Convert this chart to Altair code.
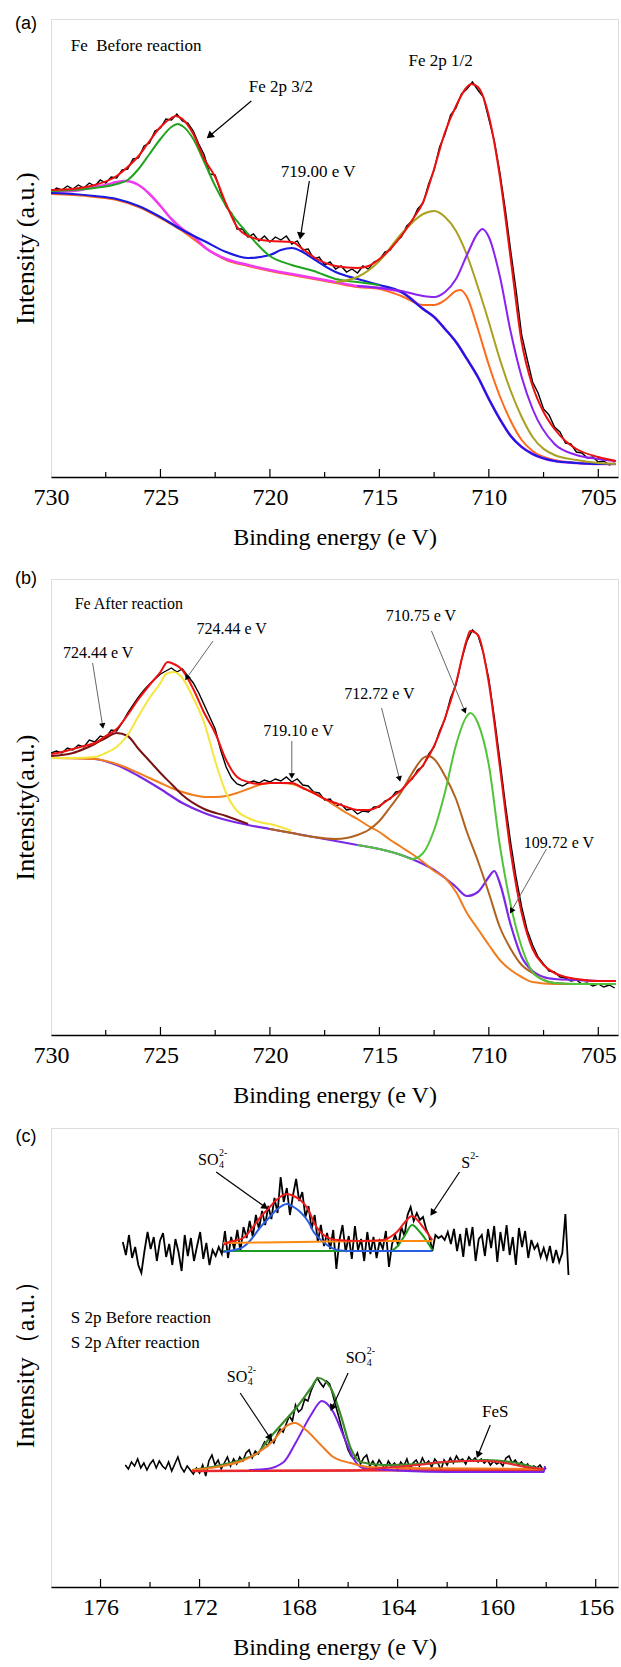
import math
import altair as alt
import pandas as pd

SERIF = "Liberation Serif"
SANS = "Liberation Sans"
W = 567
HA, HB, HC = 458, 456, 459

# ---------------- panel (a): Fe before reaction ----------------
A_TICK_LABELS = [730, 725, 720, 715, 710, 705]
A_MAJOR = [725, 720, 715, 710, 705]
A_MINOR = [727.5, 722.5, 717.5, 712.5, 707.5]

A_BLACK = [284, 289, 287, 291, 288, 292, 289, 294, 291, 297, 294, 300, 299, 307, 308, 318,
           319, 331, 334, 346, 349, 358, 357, 363, 356, 354, 346, 333, 322, 303, 302, 285,
           270, 264, 248, 248, 240, 243, 236, 241, 235, 240, 237, 241, 233, 236, 227, 228,
           218, 220, 212, 215, 208, 211, 205, 208, 204, 211, 208, 215, 217, 225, 227, 236,
           240, 251, 256, 268, 274, 293, 307, 330, 343, 362, 369, 383, 388, 395, 387, 380,
           358, 336, 305, 268, 226, 186, 142, 118, 95, 84, 68, 62, 50, 45, 34, 33,
           25, 24, 19, 20, 15, 16, 12, 14]
A_BLACK_X = [730 - 0.25 * i for i in range(len(A_BLACK))]

A_RED_X = [730, 729, 728, 727, 726.5, 726, 725.5, 725, 724.5, 724.3, 724, 723.5, 723, 722.5, 722,
           721.5, 721, 720, 719, 718.5, 718, 717, 716, 715.5, 715, 714.5, 714, 713.5, 713, 712.5,
           712, 711.5, 711, 710.8, 710.5, 710, 709.5, 709, 708.5, 708, 707.5, 707, 706.5, 706, 705, 704.2]
A_RED_Y = [287, 288, 292, 301, 310, 321, 336, 350, 359, 361, 358, 343, 318, 300, 273,
           250, 241, 236, 235, 228, 220, 211, 209, 211, 218, 228, 241, 257, 275, 308,
           345, 371, 390, 393, 390, 361, 301, 218, 135, 91, 65, 48, 36, 28, 20, 16]

A_BLUE_X = [730, 729, 728, 727, 726, 725, 724, 723, 722, 721, 720, 719.5, 719, 718.5, 718, 717, 716,
            715, 714, 713, 712.5, 712, 711.5, 711, 710.5, 710, 709.5, 709, 708.5, 708, 707, 706, 705, 704.2]
A_BLUE_Y = [284, 283, 281, 278, 271, 260, 247, 236, 225, 219, 222, 227, 229, 225, 218, 205, 198,
            192, 185, 168, 160, 148, 135, 118, 100, 78, 58, 41, 30, 23, 16, 14, 13, 13]

A_MAG_X = [730, 729, 728, 727.5, 727, 726.6, 726, 725.5, 725, 724.5, 724, 723.5, 723, 722, 721, 720,
           719, 718, 717, 716, 715, 714, 713, 712.5, 712, 711.5, 711, 710.5, 710, 709.5, 709, 708.5,
           708, 707, 706, 705, 704.2]
A_MAG_Y = [285, 286, 290, 292, 295, 296, 292, 283, 271, 258, 248, 241, 230, 218, 212, 207,
           203, 199, 195, 191, 189, 185, 168, 160, 148, 135, 118, 100, 78, 58, 41, 30,
           23, 16, 14, 13, 13]

A_GREEN_X = [730, 729, 728, 727, 726.5, 726, 725.5, 725, 724.5, 724.2, 724, 723.5, 723, 722.5, 722,
             721, 720, 719, 718, 717, 716, 715]
A_GREEN_Y = [286, 287, 289, 293, 297, 308, 323, 338, 350, 353, 351, 338, 315, 291, 271,
             243, 221, 212, 206, 198, 195, 192]

A_OLIVE_X = [717, 716, 715, 714, 713, 712.5, 712, 711.5, 711, 710.5, 710, 709.5, 709, 708.5, 708,
             707, 706, 705, 704.2]
A_OLIVE_Y = [195, 200, 216, 243, 263, 266, 260, 246, 222, 190, 155, 118, 86, 60, 40, 22, 17, 14, 13]

A_PURPLE_X = [716, 715, 714, 713, 712.5, 712, 711.5, 711, 710.5, 710.3, 710, 709.5, 709, 708.5, 708,
              707, 706, 705, 704.2]
A_PURPLE_Y = [191, 189, 186, 181, 180, 185, 198, 222, 244, 248, 240, 201, 145, 100, 68, 33, 22, 18, 16]

A_ORANGE_X = [730, 729, 728, 727, 726, 725, 724, 723, 722, 721, 720, 719, 718, 717, 716, 715, 714,
              713, 712.5, 712, 711.5, 711.3, 711, 710.5, 710, 709.5, 709, 708.5, 708, 707, 706, 705, 704.2]
A_ORANGE_Y = [283, 282, 280, 277, 270, 259, 246, 230, 217, 211, 206, 202, 198, 194, 190, 188, 181,
              172, 172, 177, 186, 187, 180, 148, 112, 81, 56, 37, 26, 17, 14, 13, 13]

A_TEXT = [(719.5, 390, "Fe 2p 3/2"), (712.2, 416, "Fe 2p 1/2"), (717.8, 305, "719.00 e V")]
A_TEXT_LEFT = [(729.1, 431, "Fe\u00a0 Before reaction")]
A_ARROWS = [(720.85, 376, 722.76, 341), (718.2, 296, 718.6, 241)]

# ---------------- panel (b): Fe after reaction ----------------
B_BLACK = [282, 284, 282, 287, 285, 290, 288, 295, 293, 299, 297, 305, 304, 312, 322, 330,
           338, 345, 351, 356, 361, 364, 367, 363, 366, 359, 352, 342, 330, 318, 306, 285,
           268, 257, 251, 249, 252, 254, 252, 255, 253, 256, 254, 258, 253, 256, 250, 249,
           243, 242, 235, 236, 229, 231, 225, 226, 221, 224, 223, 228, 228, 234, 236, 243,
           244, 252, 256, 265, 269, 281, 288, 304, 316, 337, 350, 375, 394, 405, 400, 382,
           356, 318, 276, 232, 192, 157, 128, 105, 90, 78, 71, 64, 63, 58, 57, 54,
           55, 51, 52, 49, 51, 48, 50, 47]
B_BLACK_X = [730 - 0.25 * i for i in range(len(B_BLACK))]

B_RED_X = [730, 729.5, 729, 728.5, 728, 727.5, 727, 726.5, 726, 725.5, 725, 724.67, 724.5, 724, 723.5,
           723, 722.5, 722, 721.5, 721, 720.5, 720, 719, 718.5, 718, 717.5, 717, 716.5, 716, 715.5,
           715, 714.5, 714, 713.5, 713, 712.5, 712, 711.5, 711, 710.85, 710.5, 710, 709.5, 709, 708.5,
           708, 707.5, 707, 706.5, 706, 705, 704.2]
B_RED_Y = [281, 283, 286, 289, 292, 299, 306, 320, 336, 350, 363, 373, 372, 365, 346,
           322, 302, 275, 258, 253, 251, 252, 252, 247, 242, 236, 232, 228, 225, 225,
           229, 237, 245, 257, 270, 289, 317, 352, 396, 404, 400, 352, 269, 183, 122,
           86, 70, 62, 58, 56, 54, 54]

B_PURPLE_X = [730, 729, 728, 727, 726, 725, 724, 723, 722, 721, 720, 719, 718, 717, 716, 715, 714,
              713, 712.5, 712, 711.5, 711, 710.5, 710, 709.75, 709.5, 709, 708.5, 708, 707.5, 707, 706,
              705, 704.2]
B_PURPLE_Y = [277, 277, 276, 270, 259, 246, 232, 222, 215, 210, 206, 202, 198, 194, 190, 186, 180,
              171, 165, 157, 148, 139, 143, 158, 164, 152, 110, 78, 64, 58, 56, 55, 54, 54]

B_ORANGE_X = [730, 728, 727, 726, 725.5, 725, 724.5, 724, 723.5, 723, 722.5, 722, 721.5, 721, 720.5,
              720, 719.5, 719, 718.5, 718, 717.5, 717, 716.5, 716, 715.5, 715, 714.5, 714, 713.5, 713,
              712.5, 712, 711.5, 711, 710.5, 710, 709.5, 709, 708.5, 708, 707, 706, 705, 704.2]
B_ORANGE_Y = [277, 276, 271, 262, 257, 252, 247, 243, 240, 238, 238, 239, 242, 246, 250,
              252, 252, 251, 247, 242, 236, 229, 222, 216, 209, 203, 195, 188, 181, 173,
              164, 157, 143, 122, 106, 90, 75, 65, 58, 53, 51, 51, 51, 51]

B_MAROON_X = [730, 729, 728.5, 728, 727.5, 727, 726.5, 726, 725.5, 725, 724.5, 724, 723, 722, 721]
B_MAROON_Y = [279, 282, 286, 291, 297, 302, 299, 286, 274, 262, 251, 240, 226, 219, 211]

B_YELLOW_X = [730, 729, 728, 727.5, 727, 726.5, 726, 725.5, 725, 724.75, 724.4, 724, 723.5, 723,
              722.5, 722, 721.5, 721, 720.5, 720, 719]
B_YELLOW_Y = [277, 277, 278, 282, 288, 300, 319, 337, 352, 361, 363, 357, 337, 312,
              274, 242, 224, 217, 213, 211, 204]

B_BROWN_X = [720, 719, 718, 717, 716.5, 716, 715.5, 715, 714.5, 714, 713.5, 713, 712.75, 712.5, 712,
             711.5, 711, 710.5, 710, 709.5, 709, 708.5, 708, 707.5, 707, 706, 705, 704.2]
B_BROWN_Y = [206, 202, 198, 196, 197, 200, 205, 214, 228, 243, 262, 277, 279, 276, 259,
             236, 203, 174, 142, 108, 86, 70, 62, 55, 52, 51, 51, 51]

B_GREEN_X = [716, 715, 714, 713.5, 713, 712.5, 712, 711.5, 711, 710.85, 710.5, 710, 709.5, 709, 708.5,
             708, 707.5, 707, 706, 705, 704.2]
B_GREEN_Y = [190, 186, 180, 176, 182, 205, 243, 290, 319, 322, 312, 270, 190, 130, 88,
             63, 55, 52, 51, 51, 51]

B_TEXT = [(727.85, 382, "724.44 e V"), (721.75, 406, "724.44 e V"), (718.7, 304, "719.10 e V"),
          (715.0, 341, "712.72 e V"), (713.1, 419, "710.75 e V"), (706.8, 192, "109.72 e V")]
B_TEXT_LEFT = [(728.92, 431, "Fe After reaction")]
B_ARROWS = [(728.1, 372, 727.64, 309), (722.6, 394, 723.8, 357), (719.0, 294, 719.0, 259),
            (714.9, 327, 714.08, 256), (712.62, 404, 711.1, 324), (707.37, 186, 708.97, 124)]

# ---------------- panel (c): S 2p ----------------
C_TICK_LABELS = [176, 172, 168, 164, 160, 156]
C_MAJOR = [176, 172, 168, 164, 160, 156]
C_MINOR = [174, 170, 166, 162, 158]

C_UP_BLACK = [345, 332, 352, 329, 340, 322, 314, 336, 355, 338, 350, 326, 346, 354, 330, 343,
              322, 348, 335, 316, 352, 331, 349, 326, 341, 355, 328, 344, 322, 337, 331, 340,
              333, 356, 329, 350, 338, 357, 336, 360, 349, 366, 350, 372, 358, 376, 362, 381,
              368, 389, 374, 410, 385, 399, 372, 392, 408, 386, 395, 370, 381, 358, 372, 345,
              362, 341, 354, 338, 357, 318, 347, 362, 335, 351, 328, 361, 337, 348, 326, 355,
              333, 350, 329, 346, 338, 356, 320, 343, 352, 341, 360, 351, 372, 380, 366, 374,
              367, 370, 358, 351, 336, 352, 349, 351, 347, 355, 343, 358, 336, 353, 330, 359,
              341, 360, 326, 348, 352, 331, 358, 339, 361, 325, 355, 336, 362, 332, 350, 322,
              359, 340, 356, 329, 347, 338, 343, 330, 339, 328, 341, 324, 337, 325, 334, 373, 312]
C_UP_BLACK_X = [175.1 - 0.125 * i for i in range(len(C_UP_BLACK))]

C_UP_GREEN_X = [171.05, 166.5, 164.3, 164.0, 163.7, 163.42, 163.1, 162.8, 162.6]
C_UP_GREEN_Y = [336, 336, 336, 341, 352, 362, 355, 345, 337]
C_UP_BLUE_X = [171.05, 170.6, 170.24, 169.9, 169.57, 169.2, 168.9, 168.47, 168.2, 167.93, 167.6,
               167.39, 167.1, 166.85, 166.45, 166.0, 162.6]
C_UP_BLUE_Y = [335, 337, 340, 348, 359, 369, 377, 383, 380, 375, 365, 355, 347, 342, 337, 336, 336]
C_UP_ORANGE_X = [171.05, 168.0, 165.0, 162.6]
C_UP_ORANGE_Y = [344, 345, 346, 346]
C_UP_RED_X = [171.05, 170.9, 170.24, 169.9, 169.57, 169.2, 168.9, 168.47, 168.2, 167.93, 167.6, 167.39,
              166.99, 166.45, 165.5, 164.57, 164.3, 164.03, 163.7, 163.42, 163.2, 162.95, 162.6]
C_UP_RED_Y = [342, 344, 349, 358, 369, 379, 387, 393, 391, 387, 377, 365, 352, 347, 346, 347, 350,
              355, 365, 371, 367, 359, 347]

C_LO_BLACK = [122, 118, 125, 121, 128, 119, 124, 117, 123, 127, 119, 126, 121, 118, 125, 116,
              123, 130, 120, 115, 121, 117, 113, 119, 114, 122, 111, 126, 132, 122, 127, 118,
              124, 130, 121, 128, 123, 130, 126, 134, 137, 129, 136, 133, 139, 145, 141, 148,
              144, 152, 158, 155, 163, 171, 166, 182, 175, 178, 188, 186, 196, 203, 209, 204,
              200, 206, 203, 193, 181, 170, 158, 147, 137, 131, 128, 134, 123, 129, 132, 121,
              126, 120, 127, 122, 118, 126, 121, 124, 117, 125, 121, 128, 118, 124, 127, 121,
              129, 123, 126, 120, 128, 124, 117, 127, 122, 129, 124, 131, 126, 128, 123, 130,
              126, 129, 125, 128, 124, 127, 122, 126, 123, 125, 121, 129, 131, 124, 127, 122,
              125, 120, 123, 118, 121, 119, 122, 117, 119]
C_LO_BLACK_X = [175.0 - 0.125 * i for i in range(len(C_LO_BLACK))]

C_LO_BASE_X = [172.3, 158.1]
C_LO_BASE_Y = [116, 117]
C_LO_FES_X = [172.3, 166, 164.6, 163.2, 162.2, 161.2, 160.5, 159.9, 158.8, 158.1]
C_LO_FES_Y = [116, 116.5, 119, 122, 125, 126, 126, 125, 120, 118]
C_LO_ORANGE_X = [172.3, 171.3, 170.2, 169.6, 169.0, 168.6, 168.14, 167.7, 167.1, 166.6, 165.9, 165.2,
                 163.9, 158.1]
C_LO_ORANGE_Y = [117, 120, 127, 135, 147, 159, 164, 157, 142, 130, 124, 120, 119, 118]
C_LO_PURPLE_X = [170.0, 169.3, 168.6, 168.1, 167.5, 167.06, 166.6, 166.2, 165.8, 165.4, 161.9, 158.1,
                 158.05]
C_LO_PURPLE_Y = [117, 118, 125, 145, 172, 186, 175, 152, 129, 119, 115, 115, 121]
C_LO_GREEN_X = [172.3, 171.3, 170.2, 169.6, 169.3, 168.6, 168.1, 167.5, 167.2, 166.7, 166.3, 165.9,
                165.5, 164.6, 163.2, 161.9, 161.2, 160.5, 159.2, 158.1]
C_LO_GREEN_Y = [117, 121, 128, 135, 145, 165, 179, 199, 209, 199, 172, 139, 125, 122, 123, 125, 126,
                127, 124, 117]

C_TEXT_LEFT = [(177.2, 269, "S 2p Before reaction"), (177.2, 244, "S 2p After reaction")]
C_TEXT = [(160.06, 175, "FeS")]
C_SO4 = [(172.06, 427), (166.1, 229), (170.9, 210)]
C_S2 = [(161.43, 424)]
C_ARROWS = [(171.33, 415, 169.35, 380), (161.5, 415, 162.6, 374), (166.0, 214, 166.65, 179),
            (170.36, 194, 169.15, 149), (160.26, 162, 160.75, 132)]


# ---------------- helpers ----------------
class Panel:
    def __init__(self, lo, hi, h, vals, ytitle):
        self.xs = alt.Scale(domain=[lo, hi], reverse=True, nice=False, zero=False)
        self.ys = alt.Scale(domain=[0, h], nice=False, zero=False)
        self.h = h
        self.k = W / (hi - lo)
        self.xax = alt.Axis(
            values=vals, title="Binding energy (e V)", grid=False, ticks=False, format="d",
            labelFont=SERIF, labelFontSize=24, labelColor="black", labelPadding=8,
            labelFlush=False, labelOverlap=False, titleFont=SERIF, titleFontSize=24,
            titleFontWeight="normal", titleColor="black", titlePadding=16,
            domainColor="black", domainWidth=1.3)
        self.yax = alt.Axis(
            labels=False, ticks=False, grid=False, domain=False, title=ytitle,
            titleFont=SERIF, titleFontSize=26, titleFontWeight="normal", titleColor="black",
            titlePadding=13)

    def X(self, f):
        return alt.X(f, scale=self.xs, axis=self.xax)

    def Y(self, f):
        return alt.Y(f, scale=self.ys, axis=self.yax)

    def line(self, xs, ys, color, width, interp="monotone"):
        df = pd.DataFrame({"x": xs, "y": ys})
        return alt.Chart(df).mark_line(color=color, strokeWidth=width, clip=True,
                                       interpolate=interp).encode(x=self.X("x:Q"), y=self.Y("y:Q"))

    def texts(self, rows, size, align="center", font=SERIF, dx=0, dy=0, color="black"):
        df = pd.DataFrame(rows, columns=["x", "y", "t"])
        return alt.Chart(df).mark_text(font=font, fontSize=size, align=align, baseline="middle",
                                       color=color, dx=dx, dy=dy).encode(
            x=self.X("x:Q"), y=self.Y("y:Q"), text="t:N")

    def arrows(self, rows, lcolor, hcolor, width, head):
        recs = []
        for x1, y1, x2, y2 in rows:
            dx = -(x2 - x1) * self.k
            dy = -(y2 - y1)
            ang = (math.degrees(math.atan2(dx, -dy)) + 360) % 360
            recs.append({"x": x1, "y": y1, "x2": x2, "y2": y2, "a": ang})
        df = pd.DataFrame(recs)
        shaft = alt.Chart(df).mark_rule(color=lcolor, strokeWidth=width).encode(
            x=self.X("x:Q"), y=self.Y("y:Q"), x2="x2:Q", y2="y2:Q")
        df2 = pd.DataFrame({"x": df["x2"], "y": df["y2"], "a": df["a"]})
        tip = alt.Chart(df2).mark_point(shape="triangle-up", filled=True, size=head,
                                        color=hcolor, opacity=1).encode(
            x=self.X("x:Q"), y=self.Y("y:Q"), angle=alt.Angle("a:Q", scale=None))
        return [shaft, tip]

    def ticks(self, vals, length):
        df = pd.DataFrame({"x": vals})
        return alt.Chart(df).mark_rule(color="black", strokeWidth=1.2).encode(
            x=self.X("x:Q"), y=alt.value(self.h), y2=alt.value(self.h - length))


# ---------------- panel (a) ----------------
P = Panel(704.1, 730, HA, A_TICK_LABELS, "Intensity (a.u.)")
pa = alt.layer(
    P.line(A_BLACK_X, A_BLACK, "black", 1.4, interp="linear"),
    P.line(A_ORANGE_X, A_ORANGE_Y, "#ff6a1a", 2),
    P.line(A_MAG_X, A_MAG_Y, "#f03cf0", 2.6),
    P.line(A_BLUE_X, A_BLUE_Y, "#1a1ae0", 2.2),
    P.line(A_GREEN_X, A_GREEN_Y, "#1fa51f", 2),
    P.line(A_OLIVE_X, A_OLIVE_Y, "#a8a020", 2),
    P.line(A_PURPLE_X, A_PURPLE_Y, "#8a22f0", 2),
    P.line(A_RED_X, A_RED_Y, "#ee1010", 2),
    P.ticks(A_MAJOR, 8), P.ticks(A_MINOR, 5),
    P.texts(A_TEXT, 17),
    P.texts(A_TEXT_LEFT, 17, align="left"),
    P.texts([(730 + 25 / P.k, HA - 5, "(a)")], 18, font=SANS),
    *P.arrows(A_ARROWS, "black", "black", 1.2, 70),
).properties(width=W, height=HA)

# ---------------- panel (b) ----------------
Q = Panel(704.1, 730, HB, A_TICK_LABELS, "Intensity(a.u.)")
pb = alt.layer(
    Q.line(B_BLACK_X, B_BLACK, "black", 1.4, interp="linear"),
    Q.line(B_PURPLE_X, B_PURPLE_Y, "#7a28e6", 2.2),
    Q.line(B_ORANGE_X, B_ORANGE_Y, "#f07d1e", 2),
    Q.line(B_MAROON_X, B_MAROON_Y, "#7a1414", 2),
    Q.line(B_YELLOW_X, B_YELLOW_Y, "#f4e63c", 2),
    Q.line(B_BROWN_X, B_BROWN_Y, "#b0621e", 2),
    Q.line(B_GREEN_X, B_GREEN_Y, "#52c43c", 2),
    Q.line(B_RED_X, B_RED_Y, "#ee1010", 2),
    Q.ticks(A_MAJOR, 8), Q.ticks(A_MINOR, 5),
    Q.texts(B_TEXT, 16),
    Q.texts(B_TEXT_LEFT, 16, align="left"),
    Q.texts([(730 + 25 / Q.k, HB, "(b)")], 18, font=SANS),
    *Q.arrows(B_ARROWS, "#666666", "black", 1, 40),
).properties(width=W, height=HB)

# ---------------- panel (c) ----------------
R = Panel(155.1, 178, HC, C_TICK_LABELS, "Intensity（a.u.）")
pc = alt.layer(
    R.line(C_UP_BLACK_X, C_UP_BLACK, "black", 1.8, interp="linear"),
    R.line(C_LO_BLACK_X, C_LO_BLACK, "black", 1.6, interp="linear"),
    R.line(C_UP_GREEN_X, C_UP_GREEN_Y, "#1e9e1e", 2),
    R.line(C_UP_BLUE_X, C_UP_BLUE_Y, "#2a5ee0", 2),
    R.line(C_UP_ORANGE_X, C_UP_ORANGE_Y, "#ff8a10", 2),
    R.line(C_UP_RED_X, C_UP_RED_Y, "#ee1c1c", 2),
    R.line(C_LO_BASE_X, C_LO_BASE_Y, "#e8282e", 2.4, interp="linear"),
    R.line(C_LO_GREEN_X, C_LO_GREEN_Y, "#3a8c28", 2.2),
    R.line(C_LO_PURPLE_X, C_LO_PURPLE_Y, "#7b22e8", 2),
    R.line(C_LO_ORANGE_X, C_LO_ORANGE_Y, "#f07a20", 2),
    R.line(C_LO_FES_X, C_LO_FES_Y, "#e8282e", 2),
    R.ticks(C_MAJOR, 8), R.ticks(C_MINOR, 5),
    R.texts(C_TEXT, 17),
    R.texts(C_TEXT_LEFT, 17, align="left"),
    R.texts([(x, y, "SO") for x, y in C_SO4], 16, align="left"),
    R.texts([(x, y, "4") for x, y in C_SO4], 10, align="left", dx=21, dy=5),
    R.texts([(x, y, "2-") for x, y in C_SO4], 10, align="left", dx=21, dy=-7),
    R.texts([(x, y, "S") for x, y in C_S2], 16, align="left"),
    R.texts([(x, y, "2-") for x, y in C_S2], 10, align="left", dx=9, dy=-7),
    R.texts([(178 + 25 / R.k, HC - 9, "(c)")], 18, font=SANS),
    *R.arrows(C_ARROWS, "black", "black", 1.2, 60),
).properties(width=W, height=HC)

chart = alt.vconcat(pa, pb, pc, spacing=19).properties(
    padding={"left": 11, "top": 14, "right": 2, "bottom": 0}
).configure_view(stroke="black", strokeWidth=1.3).configure(background="white")

chart.save("out.html", embed_options={"renderer": "svg", "actions": False})
